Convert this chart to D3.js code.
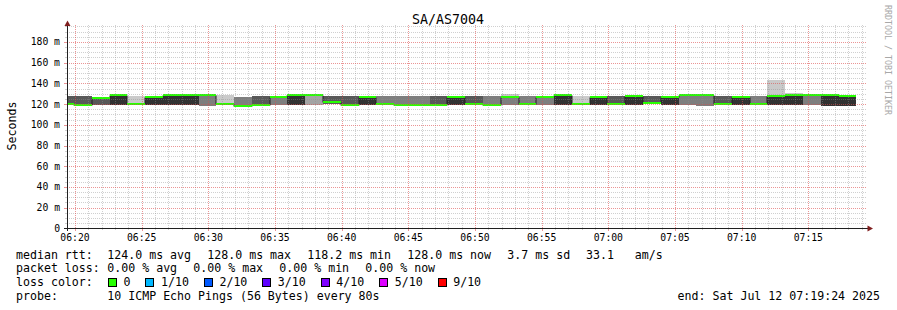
<!DOCTYPE html>
<html><head><meta charset="utf-8">
<script src="https://cdn.jsdelivr.net/npm/d3@7"></script>
<style>
html,body{margin:0;padding:0;background:#fff;}
svg{display:block;font-family:"DejaVu Sans Mono",monospace;}
</style>
</head><body>
<svg id="c" width="897" height="310"></svg>
<script>
// ---------------- data ----------------
const chartTitle = "SA/AS7004";
const yAxisTitle = "Seconds";
const yTickValues = [0,20,40,60,80,100,120,140,160,180];
const yTickLabels = ["0","20 m","40 m","60 m","80 m","100 m","120 m","140 m","160 m","180 m"];
const xTickLabels = ["06:20","06:25","06:30","06:35","06:40","06:45","06:50","06:55","07:00","07:05","07:10","07:15"];
const stepSeconds = 80;
// median rtt per 80 s step (ms), first step ends 06:19:56
const median = [120.3,118.7,126.0,128.3,120.3,127.2,128.3,128.3,128.3,120.3,
                118.2,119.5,127.2,128.3,128.3,121.5,119.5,127.0,120.3,119.5,
                119.5,119.5,127.0,120.3,119.5,127.0,120.3,127.0,128.5,120.3,
                127.0,120.3,128.0,121.0,126.5,128.3,128.3,120.3,126.4,120.3,
                127.5,128.3,128.3,128.3,128.0];
// lower cluster of ping times (ms)
const lowRtt = [119.3,117.8,119.0,118.8,119.3,119.3,118.8,118.8,118.5,119.3,
                117.5,118.6,118.8,118.8,119.0,120.3,118.6,119.0,119.3,118.6,
                118.6,118.6,119.0,119.3,118.6,119.0,119.3,119.0,118.8,119.3,
                119.0,119.3,118.8,120.0,119.0,118.8,118.5,119.3,119.0,119.3,
                118.8,118.8,118.8,118.5,118.5];
// upper cluster of ping times (ms)
const highRtt = [128.2,128.0,127.0,128.3,128.2,127.2,128.3,128.3,128.3,128.3,
                 127.0,128.2,127.2,128.3,128.3,128.0,127.5,127.0,127.5,127.5,
                 127.5,127.5,127.0,128.0,127.5,127.0,127.5,127.0,128.5,128.2,
                 127.0,128.0,128.0,128.0,126.5,128.3,128.3,128.0,126.4,127.5,
                 127.5,128.3,128.3,128.3,128.0];
// slowest ping of each step (ms)
const maxRtt = [128.2,128.0,127.0,128.3,128.2,127.2,128.3,128.3,128.3,128.3,
                127.0,128.2,127.2,128.3,128.3,128.0,127.5,127.0,127.5,127.5,
                127.5,127.5,127.0,128.0,127.5,129.5,127.5,127.0,128.5,128.2,
                127.0,128.0,128.0,128.0,126.5,128.3,128.3,128.0,126.4,127.5,
                143.4,131.0,128.3,128.3,128.0];
// number of the 10 pings that fell in the lower cluster
const lowCount = [6,6,4,5,9,5,5,5,3,9,
                  7,6,3,5,2,6,6,5,7,7,
                  7,6,5,6,7,3,7,3,5,9,
                  5,6,5,6,5,3,3,6,5,7,
                  5,5,3,5,5];
const pingsPerStep = 10;
const rttLabel = "median rtt:";
const rttStats = ["124.0 ms avg","128.0 ms max","118.2 ms min","128.0 ms now","3.7 ms sd","33.1   am/s"];
const lossLabel = "packet loss:";
const lossStats = ["0.00 % avg","0.00 % max","0.00 % min","0.00 % now"];
const lossColorLabel = "loss color:";
const lossColorNames = ["0","1/10","2/10","3/10","4/10","5/10","9/10"];
const lossColors = ["#26ff00","#00b8ff","#0059ff","#5e00ff","#7e00ff","#dd00ff","#ff0000"];
const probeLabel = "probe:";
const probeText = "10 ICMP Echo Pings (56 Bytes) every 80s";
const endText = "end: Sat Jul 12 07:19:24 2025";
const watermark = "RRDTOOL / TOBI OETIKER";

// ---------------- layout ----------------
const svg = d3.select("#c");
const tStart = new Date(2025,6,12,6,19,24);
const tEnd = new Date(2025,6,12,7,19,24);
const firstStepEnd = new Date(2025,6,12,6,19,56);
const X0 = 67, X1 = 867, Y0 = 228.4, YT = 25.3;
const x = d3.scaleTime().domain([tStart,tEnd]).range([X0,X1]);
const y = d3.scaleLinear().domain([0,196]).range([Y0,YT]);
const W = 11.6, CW = 6.985; // legend font size, char width

svg.append("rect").attr("width",897).attr("height",310).attr("fill","#fff");

// ---------------- smoke ----------------
const steps = median.map((m,i)=>{
  const e = new Date(+firstStepEnd + i*stepSeconds*1000);
  const s = new Date(+e - stepSeconds*1000);
  const pings = d3.range(pingsPerStep).map(j => j < lowCount[i] ? lowRtt[i] : highRtt[i]);
  pings[pingsPerStep-1] = Math.max(pings[pingsPerStep-1], maxRtt[i]);
  return {s: s < tStart ? tStart : s, e, m, pings};
});
const half = pingsPerStep/2;
const gSmoke = svg.append("g").attr("shape-rendering","crispEdges");
for (let ib=1, it=pingsPerStep; ib<it; ib++, it--) {
  const c = Math.floor(190/half*(half-ib))+50;
  const col = d3.rgb(c,c,c).formatHex();
  gSmoke.selectAll(null).data(steps).enter().append("rect")
    .attr("x", d=>Math.round(x(d.s)))
    .attr("width", d=>Math.round(x(d.e))-Math.round(x(d.s)))
    .attr("y", d=>Math.round(y(d.pings[it-1])))
    .attr("height", d=>Math.max(0, Math.round(y(d.pings[ib-1]))-Math.round(y(d.pings[it-1]))))
    .attr("fill", col);
}
// thin median line
const medPts = [{t:tStart, v:median[0]}].concat(steps.map(d=>({t:d.e, v:d.m})));
svg.append("path")
  .attr("d", d3.line().x(d=>Math.round(x(d.t))).y(d=>Math.round(y(d.v))+0.5).curve(d3.curveStepBefore)(medPts))
  .attr("fill","none").attr("stroke","#202020").attr("stroke-width",1);
// loss-coloured median band
svg.append("g").attr("shape-rendering","crispEdges").selectAll("rect").data(steps).enter().append("rect")
  .attr("x", d=>Math.round(x(d.s)))
  .attr("width", d=>Math.round(x(d.e))-Math.round(x(d.s)))
  .attr("y", d=>Math.round(y(d.m))-1)
  .attr("height", 2)
  .attr("fill", lossColors[0]);

// ---------------- grid ----------------
const gGrid = svg.append("g").attr("shape-rendering","crispEdges");
const minorCol = "rgba(143,143,143,0.42)", majorCol = "rgba(222,79,79,0.6)";
const minorY = d3.range(5,196,5).filter(v=>v%20!==0);
minorY.forEach(v=>{
  const yy = Math.round(y(v))+0.5;
  gGrid.append("line").attr("x1",X0).attr("x2",X1).attr("y1",yy).attr("y2",yy)
    .attr("stroke",minorCol).attr("stroke-dasharray","1,1");
  gGrid.append("line").attr("x1",X0-2).attr("x2",X0).attr("y1",yy).attr("y2",yy).attr("stroke",minorCol);
});
const minutes = d3.timeMinute.range(tStart, tEnd);
minutes.forEach(t=>{
  const xx = Math.round(x(t))+0.5;
  const major = t.getMinutes()%5===0;
  gGrid.append("line").attr("x1",xx).attr("x2",xx).attr("y1",YT).attr("y2",Y0)
    .attr("stroke", major?majorCol:minorCol).attr("stroke-dasharray","1,1");
  gGrid.append("line").attr("x1",xx).attr("x2",xx).attr("y1",Y0).attr("y2",Y0+(major?3:2))
    .attr("stroke", major?majorCol:minorCol);
});
yTickValues.forEach(v=>{
  if (v===0) return;
  const yy = Math.round(y(v))+0.5;
  gGrid.append("line").attr("x1",X0).attr("x2",X1).attr("y1",yy).attr("y2",yy)
    .attr("stroke",majorCol).attr("stroke-dasharray","1,1");
  gGrid.append("line").attr("x1",X0-3).attr("x2",X0).attr("y1",yy).attr("y2",yy).attr("stroke",majorCol);
});

// ---------------- axes ----------------
const axisCol = "#202020", arrowCol = "#801f1f";
svg.append("line").attr("x1",X0+0.5).attr("x2",X0+0.5).attr("y1",Y0+3).attr("y2",YT)
  .attr("stroke",axisCol).attr("shape-rendering","crispEdges");
svg.append("line").attr("x1",X0-3).attr("x2",868).attr("y1",Math.round(Y0)+0.5).attr("y2",Math.round(Y0)+0.5)
  .attr("stroke",axisCol).attr("shape-rendering","crispEdges");
svg.append("path").attr("d",`M${X0+0.5},20.5 L${X0-2.5},26 L${X0+3.5},26 Z`).attr("fill",arrowCol);
svg.append("path").attr("d",`M873,${Math.round(Y0)+0.5} L867.5,${Math.round(Y0)-2.5} L867.5,${Math.round(Y0)+3.5} Z`).attr("fill",arrowCol);

// y tick labels
svg.append("g").selectAll("text").data(yTickValues).enter().append("text")
  .attr("x",60).attr("y",d=>y(d)+3.5).attr("text-anchor","end")
  .attr("font-size",9.75).attr("fill","#000").text((d,i)=>yTickLabels[i]);
// x tick labels
const xTicks = minutes.filter(t=>t.getMinutes()%5===0);
svg.append("g").selectAll("text").data(xTicks).enter().append("text")
  .attr("x",d=>x(d)).attr("y",241).attr("text-anchor","middle")
  .attr("font-size",9.75).attr("fill","#000").text((d,i)=>xTickLabels[i]);

// titles
svg.append("text").attr("x",448).attr("y",24).attr("text-anchor","middle")
  .attr("font-size",13.3).attr("fill","#000").text(chartTitle);
svg.append("text").attr("transform","translate(15.5,126) rotate(-90)").attr("text-anchor","middle")
  .attr("font-size",W).attr("fill","#000").text(yAxisTitle);
svg.append("text").attr("transform","translate(885,5) rotate(90)")
  .attr("font-size",8.3).attr("fill","#a8a8a8").text(watermark);

// ---------------- legend ----------------
const L1 = 258.5, L2 = 272.4, L3 = 286.3, L4 = 300.2;
function t(xp, yp, s, anchor) {
  svg.append("text").attr("x",xp).attr("y",yp).attr("font-size",W).attr("fill","#000")
    .attr("text-anchor",anchor||"start").attr("xml:space","preserve").style("white-space","pre").text(s);
}
t(16, L1, rttLabel);
const rttX = [107.3,207.3,307.3,407.3,507.3,586];
rttStats.forEach((s,i)=>t(rttX[i], L1, s));
t(16, L2, lossLabel);
lossStats.forEach((s,i)=>t(107.3+86*i, L2, s));
t(16, L3, lossColorLabel);
let bx = 108.5;
lossColorNames.forEach((n,i)=>{
  svg.append("rect").attr("x",bx).attr("y",278.5).attr("width",8).attr("height",8)
    .attr("fill",lossColors[i]).attr("stroke","#000").attr("stroke-width",1).attr("shape-rendering","crispEdges");
  t(bx+15, L3, n);
  bx += 15 + n.length*CW + 15.5;
});
t(16, L4, probeLabel);
t(107.3, L4, probeText);
t(880, L4, endText, "end");
</script>
</body></html>
